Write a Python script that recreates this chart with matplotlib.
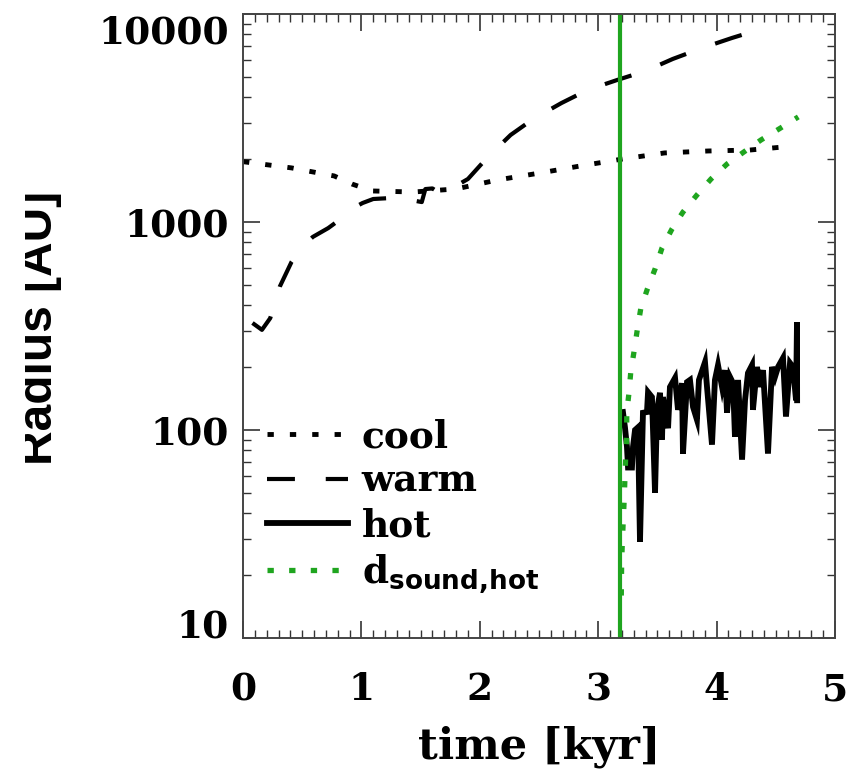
#!/usr/bin/env python3
"""
Radius of the cool / warm / hot phases vs time, log scale
"""

import numpy as np
import matplotlib
matplotlib.use('Agg')
import matplotlib.pyplot as plt
from matplotlib.transforms import Bbox, TransformedBbox

# cool phase (dotted)
t_cool = [0.0, 0.41, 0.77, 0.92, 1.09, 1.44, 1.80, 2.15, 2.51, 2.85, 3.21, 3.56, 3.93, 4.28, 4.65]
r_cool = [1950, 1820, 1665, 1523, 1410, 1394, 1442, 1593, 1721, 1860, 2010, 2148, 2195, 2218, 2318]

# warm phase (dashed)
t_warm = [0.08, 0.16, 0.23, 0.31, 0.41, 0.50, 0.59, 0.72, 0.79, 0.90, 1.01, 1.10, 1.24,
          1.40, 1.51, 1.54, 1.60, 1.66, 1.78, 1.90, 2.06, 2.26, 2.45, 2.69, 2.91,
          3.16, 3.40, 3.63, 3.88, 4.13, 4.37]
r_warm = [327, 303, 345, 488, 643, 760, 848, 935, 1000, 1142, 1234, 1290, 1303,
          1280, 1247, 1440, 1450, 1377, 1470, 1610, 2031, 2620, 3125, 3733, 4312,
          4816, 5322, 6080, 6870, 7670, 8450]

# hot phase (solid)
t_hot = [3.209, 3.226, 3.243, 3.252, 3.285, 3.294, 3.311, 3.336, 3.353, 3.378, 3.412, 3.421,
         3.454, 3.480, 3.497, 3.522, 3.539, 3.547, 3.590, 3.606, 3.649, 3.674, 3.708, 3.716,
         3.750, 3.775, 3.801, 3.834, 3.851, 3.902, 3.919, 3.961, 3.986, 4.012, 4.046, 4.071,
         4.088, 4.113, 4.139, 4.155, 4.181, 4.215, 4.240, 4.265, 4.299, 4.307, 4.341, 4.367,
         4.392, 4.434, 4.468, 4.493, 4.519, 4.561, 4.586, 4.620, 4.645, 4.671, 4.679, 4.680]
r_hot = [122, 103, 83, 66, 66, 83, 100, 103, 29, 121, 122, 152,
         144, 50, 125, 151, 90, 144, 102, 161, 178, 125, 168, 77,
         170, 174, 129, 112, 174, 212, 161, 85, 174, 205, 161, 194,
         121, 180, 168, 93, 174, 72, 139, 188, 205, 125, 201, 161,
         194, 77, 201, 180, 201, 222, 116, 210, 201, 139, 330, 139]

# sound crossing distance of the hot gas (green dotted)
t_snd = [3.195, 3.198, 3.204, 3.212, 3.220, 3.226, 3.232, 3.241, 3.241, 3.260, 3.275,
         3.302, 3.330, 3.359, 3.415, 3.480, 3.539, 3.623, 3.716, 3.834, 3.953, 4.088,
         4.231, 4.375, 4.527, 4.690]
r_snd = [16, 23, 29, 37, 47, 59, 74, 92, 121, 151, 190,
         237, 303, 382, 476, 594, 750, 925, 1116, 1349, 1610, 1900,
         2173, 2480, 2800, 3200]

t_mark = 3.18  # vertical marker

GREEN = '#1fa51f'

plt.rcParams['font.family'] = 'DejaVu Serif'
plt.rcParams['font.weight'] = 'bold'
plt.rcParams['mathtext.fontset'] = 'custom'
plt.rcParams['mathtext.bf'] = 'DejaVu Sans:bold'
plt.rcParams['mathtext.rm'] = 'DejaVu Serif:bold'

fig = plt.figure(figsize=(8.68, 7.73), dpi=100)
ax = fig.add_axes([243 / 868, 1 - 638 / 773, 592 / 868, 624 / 773])

l_cool, = ax.plot(t_cool, r_cool, color='black', lw=3.5, dashes=(1.3, 3.3), label='cool')
l_warm, = ax.plot(t_warm, r_warm, color='black', lw=3.0, dashes=(6.7, 7.4), label='warm')
l_hot, = ax.plot(t_hot, r_hot, color='black', lw=4.2, solid_joinstyle='miter', label='hot')
l_snd, = ax.plot(t_snd, r_snd, color=GREEN, lw=3.8, dashes=(1.2, 2.9),
                 label=r'd$_{\mathbf{sound{,}hot}}$')
ax.axvline(t_mark, color=GREEN, lw=3.0)

ax.set_xlim(0, 5)
ax.set_yscale('log')
ax.set_ylim(10, 10000)
ax.set_xticks([0, 1, 2, 3, 4, 5])
ax.set_xticks(np.arange(0, 5.01, 0.1), minor=True)
ax.set_yticks([10, 100, 1000, 10000])
ax.set_yticklabels(['10', '100', '1000', '10000'])

ax.tick_params(which='both', direction='in', top=True, right=True, colors='#333333',
               labelcolor='black', labelsize=27)
ax.tick_params(which='major', length=12, width=1.2)
ax.tick_params(which='minor', length=6, width=1.0)
ax.tick_params(axis='x', pad=24)
ax.tick_params(axis='y', pad=10)
for s in ax.spines.values():
    s.set_color('#444444')
    s.set_linewidth(1.4)

ylabs = ax.get_yticklabels()
ylabs[0].set_va('baseline')
ylabs[-1].set_va('top')

ax.set_xlabel('time [kyr]', fontsize=31, fontweight='bold', labelpad=12)
ylab = ax.set_ylabel('Radius [AU]', fontsize=34.5, family='Liberation Sans',
                     fontweight='bold', labelpad=0)
ax.yaxis.set_label_coords(-0.306, 0.497)
ylab.set_clip_box(TransformedBbox(Bbox([[25 / 868, 0], [1, 1]]), fig.transFigure))
ylab.set_clip_on(True)

ax.legend(handles=[l_cool, l_warm, l_hot, l_snd], loc='upper left',
          bbox_to_anchor=(0.04, 0.352), frameon=False, prop={'size': 27, 'weight': 'bold'},
          handlelength=2.16, handletextpad=0.37, labelspacing=0.2,
          borderpad=0, borderaxespad=0)

plt.savefig('out.png', dpi=100)
